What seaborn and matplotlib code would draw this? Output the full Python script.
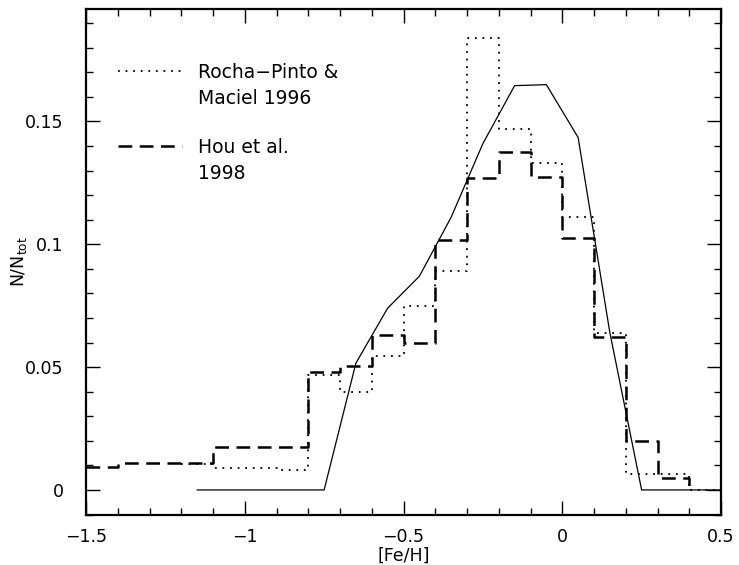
import numpy as np
import pandas as pd
import seaborn as sns
import matplotlib
matplotlib.use("Agg")
import matplotlib.pyplot as plt
from matplotlib.ticker import MultipleLocator, FuncFormatter

# Rocha-Pinto & Maciel 1996 histogram (bin left edges, values; last edge repeats)
rp_edges = [-1.2, -1.1, -0.9, -0.8, -0.7, -0.6, -0.5, -0.4, -0.3, -0.2, -0.1, 0.0, 0.1, 0.2, 0.4, 0.5]
rp_values = [0.0105, 0.009, 0.008, 0.0467, 0.040, 0.0545, 0.0748, 0.089, 0.184, 0.147,
             0.1333, 0.111, 0.0638, 0.0065, 0.0, 0.0]

# Hou et al. 1998 histogram
hou_edges = [-1.5, -1.4, -1.1, -0.8, -0.7, -0.6, -0.5, -0.4, -0.3, -0.2, -0.1, 0.0, 0.1, 0.2, 0.3, 0.4]
hou_values = [0.0093, 0.011, 0.0175, 0.048, 0.0504, 0.063, 0.0597, 0.1016, 0.127, 0.1374,
              0.1276, 0.1024, 0.0622, 0.0199, 0.0049, 0.0]

# Solid curve (model / frequency polygon at bin centres)
model_x = [-1.15, -1.05, -0.95, -0.85, -0.75, -0.65, -0.55, -0.45, -0.35, -0.25, -0.15,
           -0.05, 0.05, 0.15, 0.25, 0.35, 0.45, 0.55]
model_y = [0.0, 0.0, 0.0, 0.0, 0.0, 0.0516, 0.074, 0.087, 0.111, 0.141, 0.1646,
           0.165, 0.1435, 0.064, 0.0, 0.0, 0.0, 0.0]

legend_labels = ["Rocha\u2212Pinto &\nMaciel 1996", "Hou et al.\n1998"]

sns.set_style("ticks")
plt.rcParams['font.family'] = ['DejaVu Sans']
plt.rcParams['text.color'] = 'black'
plt.rcParams['axes.labelcolor'] = 'black'
plt.rcParams['xtick.color'] = 'black'
plt.rcParams['ytick.color'] = 'black'

fig = plt.figure(figsize=(7.39, 5.65), dpi=100)
ax = fig.add_axes([86 / 739, 1 - 515 / 565, 635 / 739, 506 / 565])

sns.lineplot(x=rp_edges, y=rp_values, ax=ax, drawstyle='steps-post', sort=False,
             color='black', lw=1.3, linestyle=(0, (1, 3.2)), estimator=None)
sns.lineplot(x=hou_edges, y=hou_values, ax=ax, drawstyle='steps-post', sort=False,
             color='black', lw=1.8, linestyle=(0, (5.5, 3)), estimator=None)
sns.lineplot(x=model_x, y=model_y, ax=ax, sort=False, color='black', lw=0.9,
             estimator=None)

ax.set_xlim(-1.5, 0.5)
ax.set_ylim(-0.0102, 0.1958)

ax.xaxis.set_major_locator(MultipleLocator(0.5))
ax.xaxis.set_minor_locator(MultipleLocator(0.1))
ax.yaxis.set_major_locator(MultipleLocator(0.05))
ax.yaxis.set_minor_locator(MultipleLocator(0.01))

fmt = FuncFormatter(lambda v, p: ("%g" % round(v, 3)).replace('-', '\u2212'))
ax.xaxis.set_major_formatter(fmt)
ax.yaxis.set_major_formatter(fmt)

ax.tick_params(which='both', direction='in', top=True, right=True, width=1.0,
               color='black', labelcolor='black')
ax.tick_params(which='major', length=10, labelsize=12.5)
ax.tick_params(axis='x', which='major', pad=9)
ax.tick_params(axis='y', which='major', pad=16)
ax.tick_params(which='minor', length=5)
for s in ax.spines.values():
    s.set_linewidth(1.6)
    s.set_color('black')

ax.set_xlabel("[Fe/H]", fontsize=12.5, color='black')
ax.set_ylabel(r"N/N$_{\rm tot}$", fontsize=12.5, color='black')
ax.xaxis.set_label_coords(0.5, -0.062)
ax.yaxis.set_label_coords(-0.089, 0.5)

# Legend (manual, as in the original)
ax.plot([0.050, 0.151], [0.877, 0.877], transform=ax.transAxes, color='black',
        lw=1.3, linestyle=(0, (1, 3.2)))
ax.plot([0.050, 0.151], [0.729, 0.729], transform=ax.transAxes, color='black',
        lw=1.8, linestyle=(0, (5.5, 3)))
ax.text(0.176, 0.893, legend_labels[0], transform=ax.transAxes, fontsize=13.5,
        va='top', ha='left', linespacing=1.45, color='black')
ax.text(0.176, 0.745, legend_labels[1], transform=ax.transAxes, fontsize=13.5,
        va='top', ha='left', linespacing=1.45, color='black')

fig.savefig("out.png", dpi=100)
